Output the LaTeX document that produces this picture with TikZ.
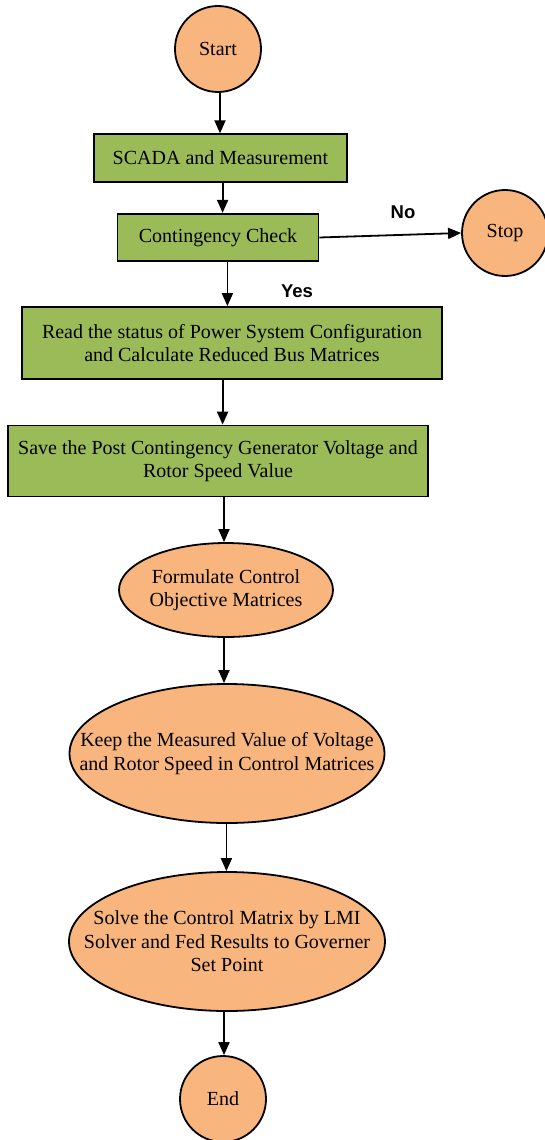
\documentclass[tikz,border=0pt]{standalone}
\usepackage{fontspec}
\setmainfont{Liberation Serif}
\newfontfamily\labfont{Liberation Sans}
\usetikzlibrary{shapes.geometric,arrows.meta}
\definecolor{boxgreen}{RGB}{155,187,89}
\definecolor{termorange}{RGB}{248,181,125}
\tikzset{
  procbox/.style={rectangle,draw=black,line width=1.8pt,fill=boxgreen,inner sep=0pt,align=center,
    font=\fontsize{20}{23.5}\selectfont},
  termnode/.style={circle,draw=black,line width=1.8pt,fill=termorange,minimum size=86pt,inner sep=0pt,
    font=\fontsize{20}{23.5}\selectfont},
  ellnode/.style={ellipse,draw=black,line width=1.8pt,fill=termorange,inner sep=0pt},
  elltext/.style={align=center,inner sep=0pt,font=\fontsize{20}{23.5}\selectfont},
  flowarrow/.style={line width=1.8pt,-{Triangle[length=13pt,width=11pt]}},
  branchlabel/.style={font=\labfont\bfseries\fontsize{18.5}{20}\selectfont,inner sep=0pt}
}
\begin{document}
\begin{tikzpicture}[x=1pt,y=-1pt]
\useasboundingbox (0,0) rectangle (544,1140);

\node[termnode] (start) at (218,49) {Start};
\node[procbox,minimum width=253pt,minimum height=47.5pt] (scada) at (220.5,158) {SCADA and Measurement};
\node[procbox,minimum width=201pt,minimum height=47.5pt] (cc) at (218,237.5) {Contingency Check};
\node[termnode] (stop) at (505,233) {Stop};
\node[procbox,minimum width=420pt,minimum height=72pt] (read) at (232,343)
  {Read the status of Power System Configuration\\and Calculate Reduced Bus Matrices};
\node[procbox,minimum width=420pt,minimum height=71pt] (save) at (218,461)
  {Save the Post Contingency Generator Voltage and\\Rotor Speed Value};
\node[ellnode,minimum width=214pt,minimum height=94pt] (form) at (226,590) {};
\node[elltext] (formt) at (form.center) {Formulate Control\\Objective Matrices};
\node[ellnode,minimum width=315pt,minimum height=139pt] (keep) at (227,753.5) {};
\node[elltext] (keept) at (keep.center) {Keep the Measured Value of Voltage\\and Rotor Speed in Control Matrices};
\node[ellnode,minimum width=316pt,minimum height=139pt] (solve) at (227,941.5) {};
\node[elltext] (solvet) at (solve.center) {Solve the Control Matrix by LMI\\Solver and Fed Results to Governer\\Set Point};
\node[termnode] (end) at (223,1099) {End};

\node[branchlabel] (nolab) at (403,212.5) {No};
\node[branchlabel] (yeslab) at (297,291) {Yes};

\coordinate (xa) at (220,0);
\coordinate (xb) at (222.6,0);
\coordinate (xc) at (227.4,0);
\coordinate (xd) at (224,0);
\coordinate (xe) at (226.4,0);

\draw[flowarrow] (start.south -| xa) -- (scada.north -| xa);
\draw[flowarrow] (scada.south -| xb) -- (cc.north -| xb);
\draw[flowarrow] (cc.east) -- (stop.west);
\draw[flowarrow] (cc.south -| xc) -- (read.north -| xc);
\draw[flowarrow] (read.south -| xb) -- (save.north -| xb);
\draw[flowarrow] (save.south -| xd) -- (form.north -| xd);
\draw[flowarrow] (form.south -| xd) -- (keep.north -| xd);
\draw[flowarrow] (keep.south -| xe) -- (solve.north -| xe);
\draw[flowarrow] (solve.south -| xd) -- (end.north -| xd);
\end{tikzpicture}
\end{document}
